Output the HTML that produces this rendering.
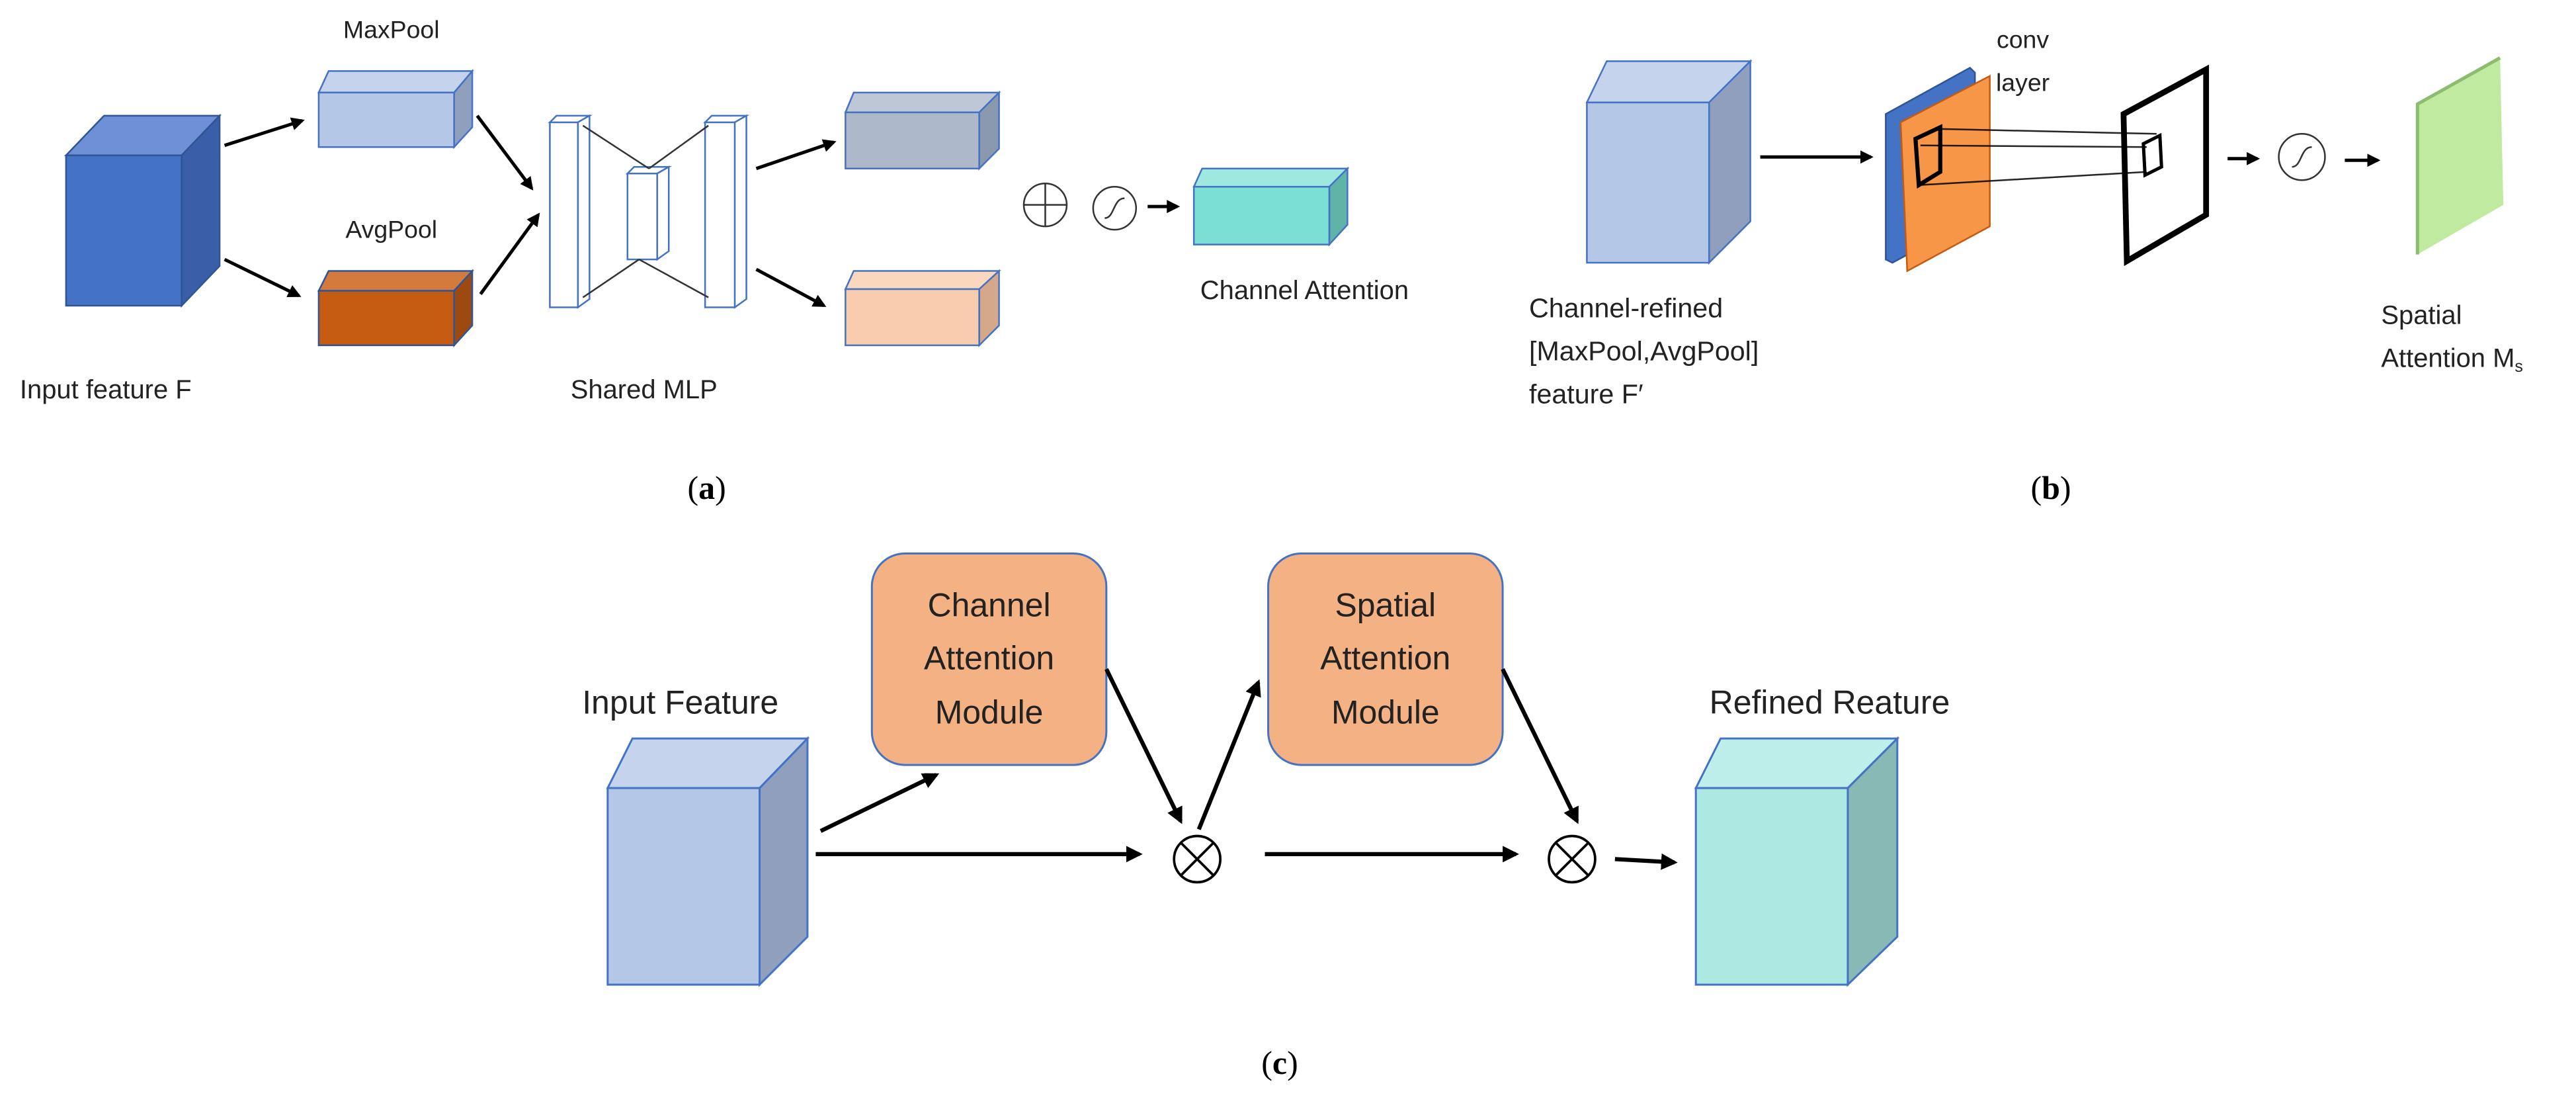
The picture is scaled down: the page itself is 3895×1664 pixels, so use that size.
<!DOCTYPE html>
<html><head><meta charset="utf-8"><style>
html,body{margin:0;padding:0;background:#fff;}
svg{display:block;}
text{font-family:"Liberation Sans",sans-serif;fill:#222;}
.lab{font-family:"Liberation Serif",serif;fill:#000;}
</style></head><body>
<svg width="3895" height="1664" viewBox="0 0 1560 666.4" xmlns="http://www.w3.org/2000/svg">
<defs>
<marker id="ah" viewBox="0 0 10 10" refX="8" refY="5" markerWidth="4" markerHeight="4" orient="auto" markerUnits="strokeWidth"><path d="M0,0 L10,5 L0,10 z" fill="#000"/></marker>
</defs>
<rect width="1560" height="666.4" fill="#fff"/>

<!-- (a) -->
<g stroke="#2f5597" stroke-width="1">
<polygon points="40,94 63,70 133,70 110,94" fill="#6f8fd6"/>
<polygon points="110,94 133,70 133,161 110,185" fill="#3a5ea8"/>
<rect x="40" y="94" width="70" height="91" fill="#4472c4"/>
</g>
<g stroke="#4472c4" stroke-width="1">
<polygon points="193,56 199,43 286,43 275,56" fill="#c5d3ec"/>
<polygon points="275,56 286,43 286,77 275,89" fill="#8f9fbd"/>
<rect x="193" y="56" width="82" height="33" fill="#b4c7e7"/>
</g>
<g stroke="#2f5597" stroke-width="1">
<polygon points="193,176 199,164 286,164 275,176" fill="#d27b3d"/>
<polygon points="275,176 286,164 286,197 275,209" fill="#9c4a10"/>
<rect x="193" y="176" width="82" height="33" fill="#c55a11"/>
</g>
<g stroke="#4472c4" stroke-width="1">
<polygon points="512,68 517,56 605,56 593,68" fill="#bdc7d6"/>
<polygon points="593,68 605,56 605,90 593,102" fill="#8a98ad"/>
<rect x="512" y="68" width="81" height="34" fill="#adb9ca"/>
</g>
<g stroke="#4472c4" stroke-width="1">
<polygon points="512,175 517,164 605,164 593,175" fill="#fad7bd"/>
<polygon points="593,175 605,164 605,197 593,209" fill="#d4a889"/>
<rect x="512" y="175" width="81" height="34" fill="#f8cbad"/>
</g>
<g stroke="#4472c4" stroke-width="1">
<polygon points="723,113 728,102 816,102 805,113" fill="#9ee8e0"/>
<polygon points="805,113 816,102 816,136 805,148" fill="#5fb3a7"/>
<rect x="723" y="113" width="82" height="35" fill="#7adfd5"/>
</g>
<g stroke="#4472c4" stroke-width="1" fill="#fff">
<rect x="333" y="74" width="17" height="112"/><polygon points="333,74 337,70 357,70 350,74"/><polygon points="350,74 357,70 357,181 350,186"/>
<rect x="380" y="105" width="18" height="52"/><polygon points="380,105 384,101 405,101 398,105"/><polygon points="398,105 405,101 405,152 398,157"/>
<rect x="427" y="74" width="18" height="112"/><polygon points="427,74 431,70 452,70 445,74"/><polygon points="445,74 452,70 452,181 445,186"/>
</g>
<g stroke="#333" stroke-width="1" fill="none">
<line x1="353" y1="76" x2="393" y2="102"/><line x1="429" y1="76" x2="393" y2="102"/>
<line x1="353" y1="180" x2="387" y2="157"/><line x1="429" y1="180" x2="387" y2="157"/>
</g>
<g stroke="#000" stroke-width="2" marker-end="url(#ah)">
<line x1="136" y1="88" x2="183" y2="73"/>
<line x1="136" y1="157" x2="181" y2="179"/>
<line x1="289" y1="70" x2="322" y2="114"/>
<line x1="291" y1="178" x2="326" y2="130"/>
<line x1="458" y1="102" x2="505" y2="86"/>
<line x1="458" y1="163" x2="499" y2="185"/>
<line x1="695" y1="125" x2="713" y2="125"/>
</g>
<g stroke="#333" stroke-width="1" fill="none">
<circle cx="633" cy="124" r="13"/><line x1="620" y1="124" x2="646" y2="124"/><line x1="633" y1="111" x2="633" y2="137"/>
<circle cx="675" cy="126" r="13"/><path d="M669,132 C675,132 674,120 681,120"/>
</g>
<text x="237" y="23" font-size="15" text-anchor="middle">MaxPool</text>
<text x="237" y="144" font-size="15" text-anchor="middle">AvgPool</text>
<text x="64" y="241" font-size="16" text-anchor="middle">Input feature F</text>
<text x="390" y="241" font-size="16" text-anchor="middle">Shared MLP</text>
<text x="790" y="181" font-size="16" text-anchor="middle">Channel Attention</text>
<text x="428" y="302" font-size="20" class="lab" text-anchor="middle">(<tspan font-weight="bold">a</tspan>)</text>

<!-- (b) -->
<g stroke="#4472c4" stroke-width="1">
<polygon points="961,62 973,37 1060,37 1035,62" fill="#c5d3ec"/>
<polygon points="1035,62 1060,37 1060,134 1035,159" fill="#8f9fbd"/>
<rect x="961" y="62" width="74" height="97" fill="#b4c7e7"/>
</g>
<line x1="1066" y1="95" x2="1133" y2="95" stroke="#000" stroke-width="2" marker-end="url(#ah)"/>
<polygon points="1142,69 1193,41 1196,44 1196,132 1146,159 1142,157" fill="#4472c4" stroke="#2f5597" stroke-width="1"/>
<polygon points="1151,74 1205,46 1205,137 1155,164" fill="#f79646" stroke="#c55a11" stroke-width="1"/>
<polygon points="1160,84 1175,77 1175,104 1162,112" fill="none" stroke="#000" stroke-width="2.5"/>
<polygon points="1286,69 1336,42 1336,130 1288,158" fill="none" stroke="#000" stroke-width="3.5"/>
<polygon points="1298,87 1308,82 1309,101 1299,106" fill="none" stroke="#000" stroke-width="2"/>
<g stroke="#000" stroke-width="1" opacity="0.85">
<line x1="1175" y1="78" x2="1306" y2="81"/>
<line x1="1163" y1="88" x2="1300" y2="89"/>
<line x1="1162" y1="112" x2="1300" y2="104"/>
</g>
<g stroke="#000" stroke-width="2" marker-end="url(#ah)">
<line x1="1349" y1="96" x2="1367" y2="96"/>
<line x1="1420" y1="97" x2="1440" y2="97"/>
</g>
<circle cx="1394" cy="95" r="14" fill="none" stroke="#333" stroke-width="1"/>
<path d="M1388,101 C1394,101 1393,89 1400,89" fill="none" stroke="#333" stroke-width="1"/>
<polygon points="1464,63 1514,35 1516,124 1464,154" fill="#c0eaa0"/>
<polyline points="1464,154 1464,63 1514,35" fill="none" stroke="#8dbb70" stroke-width="2"/>
<text x="1225" y="29" font-size="15" text-anchor="middle">conv</text>
<text x="1225" y="55" font-size="15" text-anchor="middle">layer</text>
<text x="926" y="192" font-size="16.5">Channel-refined</text>
<text x="926" y="218" font-size="16.5">[MaxPool,AvgPool]</text>
<text x="926" y="244" font-size="16.5">feature F′</text>
<text x="1442" y="196" font-size="16">Spatial</text>
<text x="1442" y="222" font-size="16">Attention M<tspan font-size="10" dy="3">s</tspan></text>
<text x="1242" y="302" font-size="20" class="lab" text-anchor="middle">(<tspan font-weight="bold">b</tspan>)</text>

<!-- (c) -->
<g stroke="#4472c4" stroke-width="1.2">
<polygon points="368,477 383,447 489,447 460,477" fill="#c5d3ec"/>
<polygon points="460,477 489,447 489,567 460,596" fill="#8f9fbd"/>
<rect x="368" y="477" width="92" height="119" fill="#b4c7e7"/>
</g>
<g stroke="#4472c4" stroke-width="1.2">
<polygon points="1027,477 1042,447 1149,447 1119,477" fill="#bdeeea"/>
<polygon points="1119,477 1149,447 1149,567 1119,596" fill="#88b9b4"/>
<rect x="1027" y="477" width="92" height="119" fill="#aee8e3"/>
</g>
<rect x="528" y="335" width="142" height="128" rx="20" fill="#f4b183" stroke="#4472c4" stroke-width="1.2"/>
<rect x="768" y="335" width="142" height="128" rx="20" fill="#f4b183" stroke="#4472c4" stroke-width="1.2"/>
<text x="599" y="373" font-size="20" text-anchor="middle">Channel</text>
<text x="599" y="405" font-size="20" text-anchor="middle">Attention</text>
<text x="599" y="438" font-size="20" text-anchor="middle">Module</text>
<text x="839" y="373" font-size="20" text-anchor="middle">Spatial</text>
<text x="839" y="405" font-size="20" text-anchor="middle">Attention</text>
<text x="839" y="438" font-size="20" text-anchor="middle">Module</text>
<text x="412" y="432" font-size="20" text-anchor="middle">Input Feature</text>
<text x="1108" y="432" font-size="20" text-anchor="middle">Refined Reature</text>
<g stroke="#000" stroke-width="2.5" marker-end="url(#ah)">
<line x1="494" y1="517" x2="690" y2="517"/>
<line x1="497" y1="503" x2="567" y2="469"/>
<line x1="670" y1="405" x2="715" y2="497"/>
<line x1="726" y1="502" x2="762" y2="413"/>
<line x1="766" y1="517" x2="918" y2="517"/>
<line x1="910" y1="405" x2="955" y2="497"/>
<line x1="978" y1="520" x2="1014" y2="522"/>
</g>
<g stroke="#000" stroke-width="1.5" fill="#fff">
<circle cx="725" cy="520" r="14"/>
<circle cx="952" cy="520" r="14"/>
</g>
<g stroke="#000" stroke-width="1.5">
<line x1="715" y1="510" x2="735" y2="530"/><line x1="735" y1="510" x2="715" y2="530"/>
<line x1="942" y1="510" x2="962" y2="530"/><line x1="962" y1="510" x2="942" y2="530"/>
</g>
<text x="775" y="650" font-size="20" class="lab" text-anchor="middle">(<tspan font-weight="bold">c</tspan>)</text>
</svg>
</body></html>
